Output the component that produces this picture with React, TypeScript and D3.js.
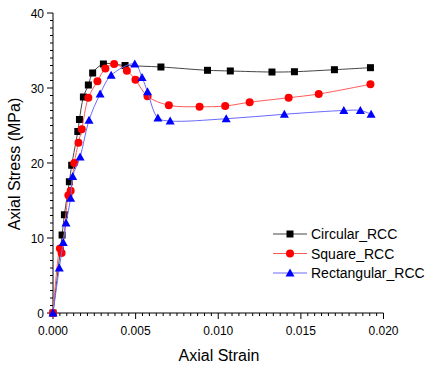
import React from "react";
import * as d3 from "d3";

const circStrain = [0, 0.00055, 0.00069, 0.00099, 0.00113, 0.0015, 0.0016, 0.00184, 0.00214, 0.0024, 0.00305, 0.00436, 0.00653, 0.00935, 0.01073, 0.01325, 0.01461, 0.01703, 0.01921];
const circStress = [0, 10.4, 13.1, 17.5, 19.7, 24.2, 25.8, 28.8, 30.4, 32.0, 33.2, 33.0, 32.8, 32.36, 32.27, 32.13, 32.17, 32.44, 32.71];

const sqStrain = [0, 0.00042, 0.00052, 0.00093, 0.00107, 0.00129, 0.00154, 0.00174, 0.00214, 0.00269, 0.00317, 0.0037, 0.00447, 0.00499, 0.00572, 0.00701, 0.00887, 0.01042, 0.0119, 0.01426, 0.01608, 0.01921];
const sqStress = [0, 8.6, 8.0, 15.7, 16.3, 20.0, 22.7, 24.5, 28.7, 30.9, 32.6, 33.2, 32.3, 31.1, 28.9, 27.7, 27.5, 27.6, 28.1, 28.7, 29.2, 30.5];

const recStrain = [0, 0.00038, 0.00062, 0.00079, 0.00107, 0.00119, 0.00164, 0.00218, 0.00285, 0.00352, 0.00495, 0.00539, 0.00572, 0.00635, 0.00709, 0.01048, 0.014, 0.0176, 0.0186, 0.01925];
const recStress = [0, 6.0, 9.4, 12.0, 15.3, 18.2, 20.8, 25.7, 29.2, 31.7, 33.2, 31.4, 29.5, 26.0, 25.6, 25.9, 26.5, 27.0, 27.0, 26.5];

const seriesNames = ["Circular_RCC", "Square_RCC", "Rectangular_RCC"];
const xTickLabels = ["0.000", "0.005", "0.010", "0.015", "0.020"];
const yTickLabels = ["0", "10", "20", "30", "40"];

const W = 429;
const H = 367;
const FONT = "Arial, 'Liberation Sans', sans-serif";

export default function App() {
  const x = d3.scaleLinear().domain([0, 0.02]).range([53, 383.5]);
  const y = d3.scaleLinear().domain([0, 40]).range([313, 13]);

  const series = [
    { name: seriesNames[0], xs: circStrain, ys: circStress, line: "#444444", fill: "#000000", shape: "square" },
    { name: seriesNames[1], xs: sqStrain, ys: sqStress, line: "#ff5a5a", fill: "#ff0000", shape: "circle" },
    { name: seriesNames[2], xs: recStrain, ys: recStress, line: "#6a6aff", fill: "#0000ff", shape: "triangle" },
  ];

  const lineGen = d3
    .line<[number, number]>()
    .x((d) => x(d[0]))
    .y((d) => y(d[1]))
    .curve(d3.curveCatmullRom.alpha(0.5));

  const marker = (shape: string, cx: number, cy: number, fill: string, key: any) => {
    if (shape === "square") return <rect key={key} x={cx - 3.5} y={cy - 3.5} width={7} height={7} fill={fill} />;
    if (shape === "circle") return <circle key={key} cx={cx} cy={cy} r={4} fill={fill} />;
    return <path key={key} d={`M${cx},${cy - 4.5}L${cx + 4.5},${cy + 3.5}L${cx - 4.5},${cy + 3.5}Z`} fill={fill} />;
  };

  const xMajor = d3.range(0, 5).map((i) => i * 0.005);
  const xMinor = d3.range(0, 49).map((i) => (i * 0.02) / 48).filter((_, i) => i % 12 !== 0);
  const yMajor = d3.range(0, 5).map((i) => i * 10);
  const yMinor = d3.range(0, 41).filter((v) => v % 10 !== 0);

  return (
    <svg width={W} height={H} style={{ position: "absolute", left: 0, top: 0, background: "#fff" }}>
      <rect x={0} y={0} width={W} height={H} fill="#fff" />
      {/* axes */}
      <line x1={53} x2={53} y1={13} y2={313} stroke="#000" strokeWidth={1} />
      <line x1={53} x2={383.5} y1={313} y2={313} stroke="#000" strokeWidth={1} />
      {yMajor.map((v, i) => (
        <g key={"ym" + i}>
          <line x1={47} x2={53} y1={y(v)} y2={y(v)} stroke="#000" />
          <text x={44} y={y(v) + 4.5} textAnchor="end" fontFamily={FONT} fontSize={12} fill="#000">
            {yTickLabels[i]}
          </text>
        </g>
      ))}
      {yMinor.map((v) => (
        <line key={"yn" + v} x1={50} x2={53} y1={y(v)} y2={y(v)} stroke="#000" />
      ))}
      {xMajor.map((v, i) => (
        <g key={"xm" + i}>
          <line x1={x(v)} x2={x(v)} y1={313} y2={319} stroke="#000" />
          <text x={x(v)} y={335} textAnchor="middle" fontFamily={FONT} fontSize={12} fill="#000">
            {xTickLabels[i]}
          </text>
        </g>
      ))}
      {xMinor.map((v, i) => (
        <line key={"xn" + i} x1={x(v)} x2={x(v)} y1={313} y2={316} stroke="#000" />
      ))}
      <text x={219} y={361} textAnchor="middle" fontFamily={FONT} fontSize={16} fill="#000">
        Axial Strain
      </text>
      <text
        transform={`translate(20,${164}) rotate(-90)`}
        textAnchor="middle"
        fontFamily={FONT}
        fontSize={16}
        fill="#000"
      >
        Axial Stress (MPa)
      </text>
      {/* series */}
      {series.map((s, si) => {
        const pts: [number, number][] = s.xs.map((v, i) => [v, s.ys[i]]);
        return (
          <g key={"s" + si}>
            <path d={lineGen(pts) || ""} fill="none" stroke={s.line} strokeWidth={1} />
            {pts.map((p, i) => marker(s.shape, x(p[0]), y(p[1]), s.fill, i))}
          </g>
        );
      })}
      {/* legend */}
      {series.map((s, si) => {
        const ly = 234 + si * 19.5;
        return (
          <g key={"l" + si}>
            <line x1={273} x2={307} y1={ly} y2={ly} stroke={s.line} strokeWidth={1} />
            {marker(s.shape, 290, ly, s.fill, "m")}
            <text x={311} y={ly + 5} fontFamily={FONT} fontSize={14} fill="#000">
              {s.name}
            </text>
          </g>
        );
      })}
    </svg>
  );
}
